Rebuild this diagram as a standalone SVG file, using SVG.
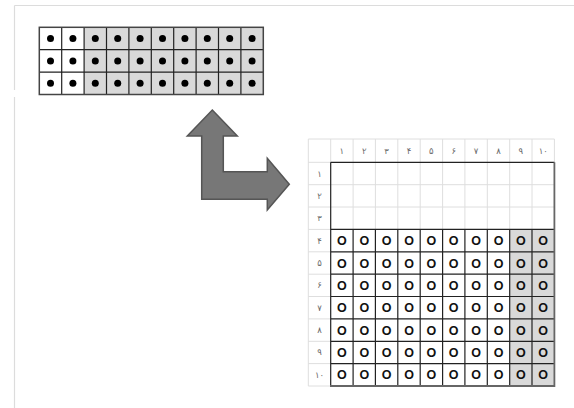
<svg xmlns="http://www.w3.org/2000/svg" width="574" height="408" viewBox="0 0 574 408">
<style>
.bg{stroke:#dcdcdc;stroke-width:1.2;fill:none}
.lt{stroke:#dedede;stroke-width:1;fill:none}
.dk{stroke:#222;stroke-width:1.2;fill:none}
.sh{fill:#d9d9d9}
.dot{fill:#000}
.o{font-family:"Liberation Sans",Arial,sans-serif;font-size:12.5px;font-weight:bold;fill:#111;text-anchor:middle}
.lb{font-family:"DejaVu Sans",sans-serif;font-size:8.5px;fill:#6a6a6a;text-anchor:middle}
</style>
<rect width="574" height="408" fill="#fff"/>
<g id="frame">
<path class="bg" d="M14.5,5.5 H574 M14.5,5.5 V90 M14.5,97 V408"/>
</g>
<g id="top-grid">
<rect x="39.3" y="27.3" width="224" height="67.2" fill="#fff"/>
<rect class="sh" x="84.1" y="27.3" width="179.2" height="67.2"/>
<path class="dk" d="M39.3,49.7 H263.3 M39.3,72.1 H263.3 M61.7,27.3 V94.5 M84.1,27.3 V94.5 M106.5,27.3 V94.5 M128.9,27.3 V94.5 M151.3,27.3 V94.5 M173.7,27.3 V94.5 M196.1,27.3 V94.5 M218.5,27.3 V94.5 M240.9,27.3 V94.5"/>
<rect x="39.3" y="27.3" width="224" height="67.2" fill="none" stroke="#444" stroke-width="1.5"/>
<g class="dot">
<circle cx="50.5" cy="38.5" r="3.5"/><circle cx="72.9" cy="38.5" r="3.5"/><circle cx="95.3" cy="38.5" r="3.5"/><circle cx="117.7" cy="38.5" r="3.5"/><circle cx="140.1" cy="38.5" r="3.5"/><circle cx="162.5" cy="38.5" r="3.5"/><circle cx="184.9" cy="38.5" r="3.5"/><circle cx="207.3" cy="38.5" r="3.5"/><circle cx="229.7" cy="38.5" r="3.5"/><circle cx="252.1" cy="38.5" r="3.5"/>
<circle cx="50.5" cy="60.9" r="3.5"/><circle cx="72.9" cy="60.9" r="3.5"/><circle cx="95.3" cy="60.9" r="3.5"/><circle cx="117.7" cy="60.9" r="3.5"/><circle cx="140.1" cy="60.9" r="3.5"/><circle cx="162.5" cy="60.9" r="3.5"/><circle cx="184.9" cy="60.9" r="3.5"/><circle cx="207.3" cy="60.9" r="3.5"/><circle cx="229.7" cy="60.9" r="3.5"/><circle cx="252.1" cy="60.9" r="3.5"/>
<circle cx="50.5" cy="83.3" r="3.5"/><circle cx="72.9" cy="83.3" r="3.5"/><circle cx="95.3" cy="83.3" r="3.5"/><circle cx="117.7" cy="83.3" r="3.5"/><circle cx="140.1" cy="83.3" r="3.5"/><circle cx="162.5" cy="83.3" r="3.5"/><circle cx="184.9" cy="83.3" r="3.5"/><circle cx="207.3" cy="83.3" r="3.5"/><circle cx="229.7" cy="83.3" r="3.5"/><circle cx="252.1" cy="83.3" r="3.5"/>
</g>
</g>
<g id="connectors">
<polygon points="212.3,110 237.3,136 223.3,136 223.3,171.7 267.3,171.7 267.3,158.3 289.3,184.3 267.3,210 267.3,199.3 201.7,199.3 201.7,136 187.3,136" fill="#777" stroke="#555" stroke-width="1.5" stroke-linejoin="miter"/>
</g>
<g id="bottom-grid">
<rect class="sh" x="509.7" y="229.4" width="44.7" height="156.6"/>
<path class="lt" d="M308.3,139 H554.4 M308.3,139 V386 H330.7 M308.3,162.3 H330.7 M308.3,184.7 H554.4 M308.3,207 H554.4 M308.3,229.4 H330.7 M308.3,251.8 H330.7 M308.3,274.2 H330.7 M308.3,296.5 H330.7 M308.3,318.9 H330.7 M308.3,341.3 H330.7 M308.3,363.6 H330.7 M330.7,139 V162.3 M353.1,139 V229.4 M375.4,139 V229.4 M397.8,139 V229.4 M420.2,139 V229.4 M442.6,139 V229.4 M464.9,139 V229.4 M487.3,139 V229.4 M509.7,139 V229.4 M532,139 V229.4 M554.4,139 V162.3"/>
<path class="dk" d="M330.7,162.3 H554.4 M330.7,229.4 H554.4 M330.7,251.8 H554.4 M330.7,274.2 H554.4 M330.7,296.5 H554.4 M330.7,318.9 H554.4 M330.7,341.3 H554.4 M330.7,363.6 H554.4 M330.7,162.3 V386 M353.1,229.4 V386 M375.4,229.4 V386 M397.8,229.4 V386 M420.2,229.4 V386 M442.6,229.4 V386 M464.9,229.4 V386 M487.3,229.4 V386 M509.7,229.4 V386 M532,229.4 V386"/>
<path d="M330,386 H554.4 V162.3" fill="none" stroke="#666" stroke-width="1.8"/>
<g class="lb">
<text x="341.9" y="153.7">۱</text><text x="364.3" y="153.7">۲</text><text x="386.6" y="153.7">۳</text><text x="409" y="153.7">۴</text><text x="431.4" y="153.7">۵</text><text x="453.7" y="153.7">۶</text><text x="476.1" y="153.7">۷</text><text x="498.5" y="153.7">۸</text><text x="520.8" y="153.7">۹</text><text x="543.2" y="153.7">۱۰</text>
<text x="319.5" y="176.5">۱</text><text x="319.5" y="198.9">۲</text><text x="319.5" y="221.2">۳</text><text x="319.5" y="243.6">۴</text><text x="319.5" y="266">۵</text><text x="319.5" y="288.3">۶</text><text x="319.5" y="310.7">۷</text><text x="319.5" y="333.1">۸</text><text x="319.5" y="355.4">۹</text><text x="319.5" y="377.8">۱۰</text>
</g>
<g class="o">
<text x="341.9" y="245.1">O</text><text x="364.3" y="245.1">O</text><text x="386.6" y="245.1">O</text><text x="409" y="245.1">O</text><text x="431.4" y="245.1">O</text><text x="453.7" y="245.1">O</text><text x="476.1" y="245.1">O</text><text x="498.5" y="245.1">O</text><text x="520.8" y="245.1">O</text><text x="543.2" y="245.1">O</text>
<text x="341.9" y="267.5">O</text><text x="364.3" y="267.5">O</text><text x="386.6" y="267.5">O</text><text x="409" y="267.5">O</text><text x="431.4" y="267.5">O</text><text x="453.7" y="267.5">O</text><text x="476.1" y="267.5">O</text><text x="498.5" y="267.5">O</text><text x="520.8" y="267.5">O</text><text x="543.2" y="267.5">O</text>
<text x="341.9" y="289.8">O</text><text x="364.3" y="289.8">O</text><text x="386.6" y="289.8">O</text><text x="409" y="289.8">O</text><text x="431.4" y="289.8">O</text><text x="453.7" y="289.8">O</text><text x="476.1" y="289.8">O</text><text x="498.5" y="289.8">O</text><text x="520.8" y="289.8">O</text><text x="543.2" y="289.8">O</text>
<text x="341.9" y="312.2">O</text><text x="364.3" y="312.2">O</text><text x="386.6" y="312.2">O</text><text x="409" y="312.2">O</text><text x="431.4" y="312.2">O</text><text x="453.7" y="312.2">O</text><text x="476.1" y="312.2">O</text><text x="498.5" y="312.2">O</text><text x="520.8" y="312.2">O</text><text x="543.2" y="312.2">O</text>
<text x="341.9" y="334.6">O</text><text x="364.3" y="334.6">O</text><text x="386.6" y="334.6">O</text><text x="409" y="334.6">O</text><text x="431.4" y="334.6">O</text><text x="453.7" y="334.6">O</text><text x="476.1" y="334.6">O</text><text x="498.5" y="334.6">O</text><text x="520.8" y="334.6">O</text><text x="543.2" y="334.6">O</text>
<text x="341.9" y="356.9">O</text><text x="364.3" y="356.9">O</text><text x="386.6" y="356.9">O</text><text x="409" y="356.9">O</text><text x="431.4" y="356.9">O</text><text x="453.7" y="356.9">O</text><text x="476.1" y="356.9">O</text><text x="498.5" y="356.9">O</text><text x="520.8" y="356.9">O</text><text x="543.2" y="356.9">O</text>
<text x="341.9" y="379.3">O</text><text x="364.3" y="379.3">O</text><text x="386.6" y="379.3">O</text><text x="409" y="379.3">O</text><text x="431.4" y="379.3">O</text><text x="453.7" y="379.3">O</text><text x="476.1" y="379.3">O</text><text x="498.5" y="379.3">O</text><text x="520.8" y="379.3">O</text><text x="543.2" y="379.3">O</text>
</g>
</g>
</svg>
